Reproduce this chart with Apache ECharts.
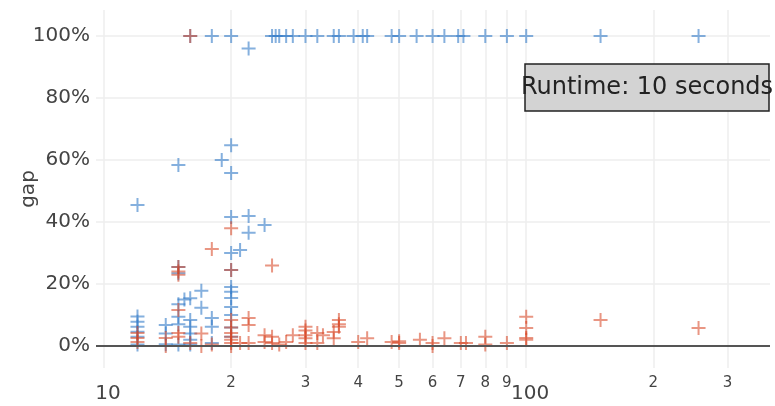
<!DOCTYPE html>
<html>
<head>
<meta charset="utf-8">
<script src="https://cdn.jsdelivr.net/npm/echarts@6/dist/echarts.min.js"></script>
<style>
  html, body { margin: 0; padding: 0; background: #fff; }
  #chart { width: 775px; height: 406px; }
</style>
</head>
<body>
<div id="chart"></div>
<script>
// blue series (x, gap %)
const blueX = [16, 18, 20, 22, 25, 25.5, 26, 27, 28, 30, 32, 35, 36, 39, 41, 42, 48, 50, 55, 60, 64, 69, 71, 80, 90, 100, 150, 256,
  20, 19, 15, 20, 12, 20, 22, 24, 22, 20, 21,
  15, 15, 20, 20, 20, 20, 20, 20, 20, 20,
  17, 16, 15.5, 17, 15, 15, 16, 16, 16, 16, 16, 18, 18, 18, 15, 15,
  14, 14, 14, 12, 12, 12, 12, 12, 12]
const blueY = [100, 100, 100, 96, 100, 100, 100, 100, 100, 100, 100, 100, 100, 100, 100, 100, 100, 100, 100, 100, 100, 100, 100, 100, 100, 100, 100, 100,
  64.8, 60, 58.4, 55.8, 45.5, 41.6, 41.9, 39, 36.5, 30, 31,
  25.5, 23.5, 24.5, 19, 17.5, 15.5, 12.6, 10, 6, 3,
  17.8, 15.4, 15, 12.3, 13.5, 9.4, 8.4, 6.2, 4, 2, 0.5, 9, 6.2, 1, 7, 0.5,
  6.8, 4, 0.6, 9.5, 7.8, 6.2, 4.6, 3, 0.5]

// red series (x, gap %)
const redX = [16, 20, 18, 15, 15, 15, 20, 25,
  12, 12, 12, 14, 14, 15, 15, 15, 16, 17, 17, 18,
  20, 20, 20, 20, 20, 20, 20, 21, 22, 22, 22,
  24, 24, 25, 25, 26, 27, 28, 30, 30, 30, 30, 30, 32, 32, 33, 35, 35, 36, 36, 36,
  40, 42, 48, 50, 50, 56, 60, 60, 64, 70, 72, 80, 80, 90,
  100, 100, 100, 100, 150, 256]
const redY = [100, 38, 31.3, 25.5, 24, 23, 24.5, 26,
  4.2, 2.6, 1.3, 2.6, 0, 11.6, 4.2, 3, 1, 4, 0, 0.5,
  8.4, 6, 4.2, 3, 2, 1, 0, 1, 9, 6.8, 1,
  3.5, 1.3, 3, 1, 0.5, 1.3, 3.5, 6.2, 5, 3.5, 2.5, 1, 4.2, 1, 3.5, 4.5, 2.5, 8.4, 7, 6.2,
  1.3, 2.5, 1.3, 1.5, 1, 2, 1, 0, 2.5, 1, 1, 3, 0.5, 1,
  9.4, 5.8, 2.6, 2, 8.4, 5.8]

const xTicks = [10, 20, 30, 40, 50, 60, 70, 80, 90, 100, 200, 300]
const yTicks = [0, 20, 40, 60, 80, 100]

const BLUE = 'rgba(52,124,200,0.75)'
const RED = 'rgba(215,68,34,0.7)'
const PLUS = 'path://M6,0h2v14h-2zM0,6h14v2h-14z'
const FONT = 'DejaVu Sans'

function pairs(xs, ys) { return xs.map((x, i) => [x, ys[i]]) }

function tickLabel(v) {
  const p = Math.pow(10, Math.floor(Math.log10(v) + 1e-9))
  const lead = Math.round(v / p)
  return lead === 1 ? '{big|' + Math.round(v) + '}' : '{s|' + lead + '}'
}

const chart = echarts.init(document.getElementById('chart'))
chart.setOption({
  animation: false,
  backgroundColor: '#fff',
  grid: { left: 96, right: 5, top: 10, bottom: 38, outerBoundsMode: 'none', containLabel: false },
  xAxis: {
    type: 'log',
    logBase: 10,
    min: 9.57,
    max: 378,
    axisLine: { show: false },
    axisTick: { show: false, customValues: xTicks },
    axisLabel: {
      customValues: xTicks,
      margin: 8,
      color: '#444',
      fontFamily: FONT,
      formatter: tickLabel,
      rich: {
        s: { fontSize: 15, fontFamily: FONT, color: '#444' },
        big: { fontSize: 20, fontFamily: FONT, color: '#444', padding: [8, 0, 0, 8] },
      },
    },
    splitLine: { show: true, lineStyle: { color: '#eeeeee', width: 1.5 } },
  },
  yAxis: {
    type: 'value',
    min: -7.1,
    max: 108.4,
    name: 'gap',
    nameLocation: 'middle',
    nameGap: 57,
    nameMoveOverlap: false,
    nameTextStyle: { fontSize: 20, fontFamily: FONT, color: '#444' },
    axisLine: { show: false },
    axisTick: { show: false, customValues: yTicks },
    axisLabel: { customValues: yTicks, margin: 6, fontSize: 20, fontFamily: FONT, color: '#444', formatter: '{value}%' },
    splitLine: { show: true, lineStyle: { color: '#eeeeee', width: 1.5 } },
  },
  series: [
    {
      name: 'blue',
      type: 'scatter',
      symbol: PLUS,
      symbolSize: 14,
      itemStyle: { color: BLUE },
      data: pairs(blueX, blueY),
      markLine: {
        silent: true,
        symbol: 'none',
        label: { show: false },
        lineStyle: { color: '#555', width: 2, type: 'solid' },
        data: [{ yAxis: 0 }],
      },
      z: 3,
    },
    {
      name: 'red',
      type: 'scatter',
      symbol: PLUS,
      symbolSize: 14,
      itemStyle: { color: RED },
      data: pairs(redX, redY),
      z: 4,
    },
  ],
  graphic: [
    {
      type: 'rect',
      shape: { x: 525, y: 64, width: 244, height: 47 },
      style: { fill: '#d3d3d3', stroke: '#222', lineWidth: 1.5 },
      z: 10,
    },
    {
      type: 'text',
      x: 647,
      y: 88,
      style: { text: 'Runtime: 10 seconds', font: '24px "DejaVu Sans"', fill: '#222', align: 'center', verticalAlign: 'middle' },
      z: 11,
    },
  ],
})
</script>
</body>
</html>
